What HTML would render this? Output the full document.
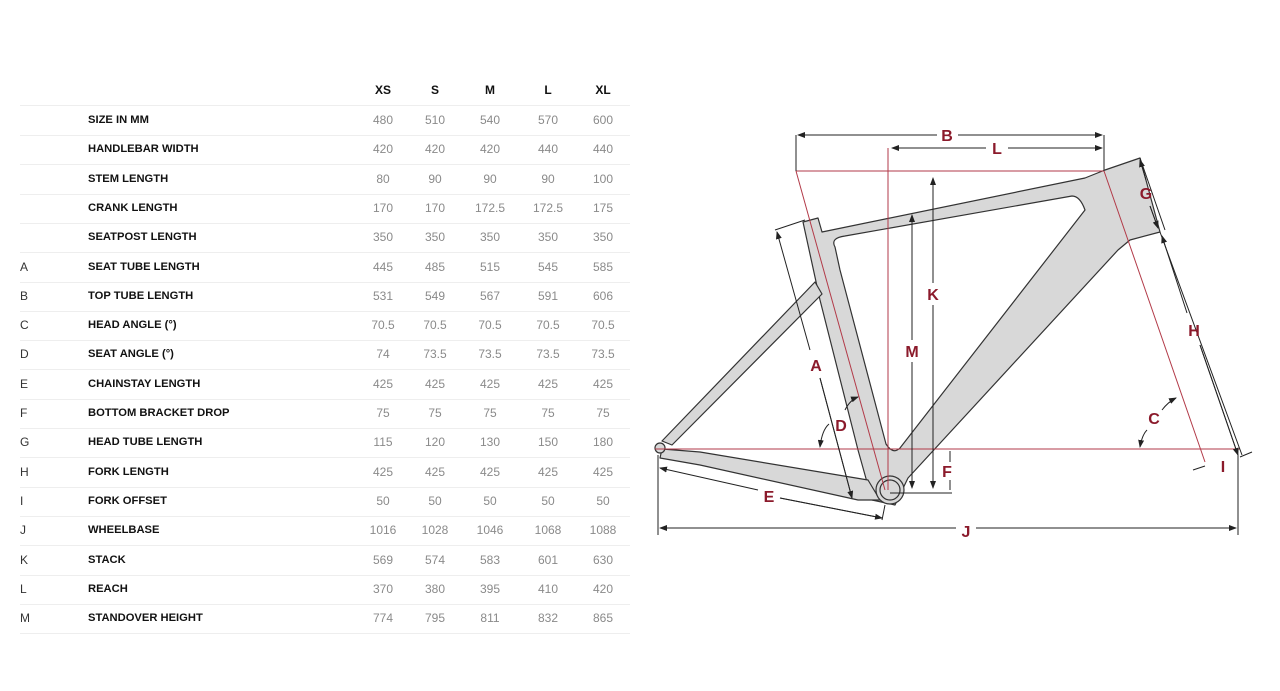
<!DOCTYPE html>
<html><head><meta charset="utf-8"><style>
body{margin:0;width:1280px;height:691px;background:#fff;overflow:hidden;position:relative;font-family:"Liberation Sans",sans-serif}
.t{position:absolute;left:0;top:0}
.r{position:absolute;left:20px;width:610px;height:29px;border-bottom:1px solid #eee;font-size:12px}
.r span{position:absolute;top:7px}
.l{left:0;color:#333}
.n{left:68px;color:#111;font-weight:bold;font-size:11.2px;top:8px!important}
.v{color:#8a8a8a;width:50px;text-align:center}
.h{position:absolute;top:83px;font-size:12px;font-weight:bold;color:#111;width:50px;text-align:center}
</style></head><body>
<div class="h" style="left:358px">XS</div><div class="h" style="left:410px">S</div><div class="h" style="left:465px">M</div><div class="h" style="left:523px">L</div><div class="h" style="left:578px">XL</div>
<div class="r" style="top:77px;height:28px"></div>
<div id="rows"></div>
<script>
var d=[["","SIZE IN MM","480","510","540","570","600"],["","HANDLEBAR WIDTH","420","420","420","440","440"],["","STEM LENGTH","80","90","90","90","100"],["","CRANK LENGTH","170","170","172.5","172.5","175"],["","SEATPOST LENGTH","350","350","350","350","350"],["A","SEAT TUBE LENGTH","445","485","515","545","585"],["B","TOP TUBE LENGTH","531","549","567","591","606"],["C","HEAD ANGLE (°)","70.5","70.5","70.5","70.5","70.5"],["D","SEAT ANGLE (°)","74","73.5","73.5","73.5","73.5"],["E","CHAINSTAY LENGTH","425","425","425","425","425"],["F","BOTTOM BRACKET DROP","75","75","75","75","75"],["G","HEAD TUBE LENGTH","115","120","130","150","180"],["H","FORK LENGTH","425","425","425","425","425"],["I","FORK OFFSET","50","50","50","50","50"],["J","WHEELBASE","1016","1028","1046","1068","1088"],["K","STACK","569","574","583","601","630"],["L","REACH","370","380","395","410","420"],["M","STANDOVER HEIGHT","774","795","811","832","865"]];
var cx=[338,390,445,503,558],h="";
d.forEach(function(r,i){var y=106+i*29.3;h+='<div class="r" style="top:'+y+'px"><span class="l">'+r[0]+'</span><span class="n">'+r[1]+'</span>';for(var j=0;j<5;j++)h+='<span class="v" style="left:'+cx[j]+'px">'+r[j+2]+'</span>';h+='</div>';});
document.getElementById('rows').innerHTML=h;
</script>
<svg class="t" width="1280" height="691" viewBox="0 0 1280 691">
<defs><marker id="a" markerWidth="8" markerHeight="6" refX="7" refY="3" orient="auto-start-reverse"><path d="M0,0L8,3L0,6z" fill="#222"/></marker></defs>
<g fill="#d8d8d8" stroke="#333" stroke-width="1.2" stroke-linejoin="round">
<path fill-rule="evenodd" d="M803,222 L818,218 L822,232 L1085,178 L1105,170 L1140,158 L1160,232 L1130,240 L1118,250 L908,478 L895,505 L872,500 L858,450 L820,300 Z M835,247 Q830,238 845,236 L1072,196 Q1080,196 1085,210 L900,448 Q893,455 886,444 L840,270 Z"/>
<path d="M815,282 L822,294 L672,445 L662,441 Z"/>
<path d="M662,449 L700,452 L868,480 L880,500 L858,500 L700,465 L660,458 Z"/>
<circle cx="660" cy="448" r="5"/>
<circle cx="890" cy="490" r="14"/><circle cx="890" cy="490" r="10" fill="none"/>
</g>
<g stroke="#b23a48" stroke-width="1" fill="none">
<path d="M796,171 H1104 M888,148 V490 M796,171 L885,490 M1104,171 L1205,462 M655,449 H1240"/>
</g>
<g stroke="#222" stroke-width="1" fill="none">
<path d="M796,135 V171 M1104,135 V171"/>
<path d="M798,135 H937 M958,135 H1102" marker-start="url(#a)" marker-end="url(#a)"/>
<path d="M892,148 H986 M1008,148 H1102" marker-start="url(#a)"/>
<path d="M1008,148 H1102" marker-end="url(#a)"/>
<path d="M933,178 V283 M933,305 V488" marker-start="url(#a)"/>
<path d="M933,305 V488" marker-end="url(#a)"/>
<path d="M912,215 V340 M912,362 V488" marker-start="url(#a)"/>
<path d="M912,362 V488" marker-end="url(#a)"/>
<path d="M890,493 H952"/>
<path d="M950,451 V462 M950,480 V490" />
<path d="M777,232 L810,350 M820,378 L852,498" marker-start="url(#a)"/>
<path d="M820,378 L852,498" marker-end="url(#a)"/>
<path d="M775,230 L805,220 M1160,232 L1242,455 M1140,158 L1165,230" />
<path d="M1162,236 L1187,313 M1200,345 L1238,455" marker-start="url(#a)"/>
<path d="M1200,345 L1238,455" marker-end="url(#a)"/>
<path d="M1140,160 L1146,180 M1150,206 L1158,228" marker-start="url(#a)"/>
<path d="M1150,206 L1158,228" marker-end="url(#a)"/>
<path d="M660,468 L758,490 M780,498 L882,518" marker-start="url(#a)"/>
<path d="M780,498 L882,518" marker-end="url(#a)"/>
<path d="M658,455 V535 M1238,455 V535 M885,505 L882,520"/>
<path d="M660,528 H956 M976,528 H1236" marker-start="url(#a)"/>
<path d="M976,528 H1236" marker-end="url(#a)"/>
<path d="M1193,470 L1205,466 M1240,457 L1252,452"/>
<path d="M820,447 Q822,430 829,424" marker-start="url(#a)"/>
<path d="M845,410 Q850,400 858,397" marker-end="url(#a)"/>
<path d="M1140,447 Q1142,435 1147,430" marker-start="url(#a)"/>
<path d="M1162,410 Q1168,402 1176,398" marker-end="url(#a)"/>
</g>
<g fill="#8b1a2b" font-family="Liberation Sans" font-weight="bold" font-size="16" text-anchor="middle">
<text x="947" y="141">B</text><text x="997" y="154">L</text><text x="933" y="300">K</text><text x="912" y="357">M</text>
<text x="816" y="371">A</text><text x="841" y="431">D</text><text x="1146" y="199">G</text><text x="1194" y="336">H</text>
<text x="1154" y="424">C</text><text x="947" y="477">F</text><text x="1223" y="472">I</text><text x="769" y="502">E</text><text x="966" y="537">J</text>
</g>
</svg>
</body></html>
